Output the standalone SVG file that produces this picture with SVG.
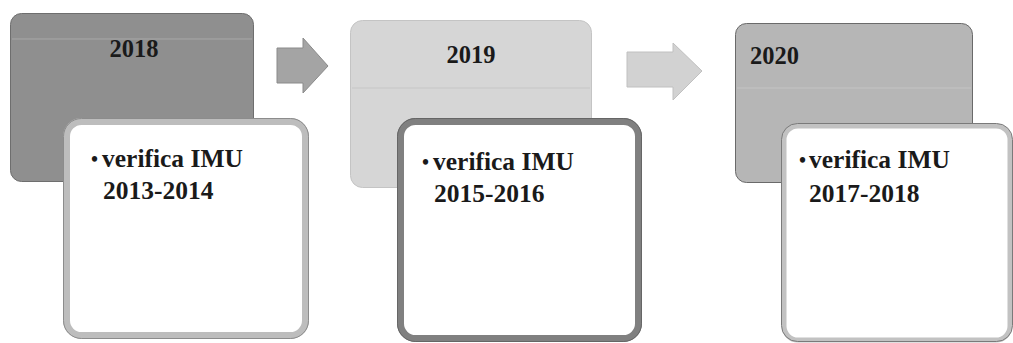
<svg xmlns="http://www.w3.org/2000/svg" width="1013" height="343" viewBox="0 0 1013 343">
<style>
.year{font-family:"Liberation Serif","Times New Roman",serif;font-weight:bold;font-size:24.5px;fill:#1a1a1a}
.item{font-family:"Liberation Serif","Times New Roman",serif;font-weight:bold;font-size:25.5px;fill:#1a1a1a}
.bul{font-size:20px}
.card{fill:#ffffff}
</style>
<rect width="1013" height="343" fill="#ffffff"/>
<g id="connectors">
<polygon points="277,48 303,48 303,38 328,66 303,93 303,83 277,83" fill="#a4a4a4" stroke="#8a8a8a" stroke-width="1"/>
<polygon points="627,52 673,52 673,43 702,71 673,100 673,87 627,87" fill="#d2d2d2" stroke="#c0c0c0" stroke-width="1"/>
</g>
<g id="node-2018">
<rect x="10.5" y="13.5" width="243" height="168" rx="11" fill="#8f8f8f" stroke="#6e6e6e" stroke-width="1"/>
<line x1="12" y1="39" x2="252" y2="39" stroke="#a8a8a8" stroke-width="1"/>
<text class="year" x="134" y="57" text-anchor="middle">2018</text>
</g>
<g id="card-2018">
<rect x="66.5" y="121.5" width="239" height="214" rx="15" class="card" stroke="#bdbdbd" stroke-width="7"/>
<rect x="63.5" y="118.5" width="245" height="220" rx="18" fill="none" stroke="#8c8c8c" stroke-width="1"/>
<text class="item"><tspan class="bul" x="91" y="166">•</tspan><tspan x="102" y="167">verifica IMU</tspan><tspan x="103" y="199">2013-2014</tspan></text>
</g>
<g id="node-2019">
<rect x="350.5" y="20.5" width="241" height="167" rx="12" fill="#d6d6d6" stroke="#c4c4c4" stroke-width="1"/>
<line x1="352" y1="88" x2="590" y2="88" stroke="#c6c6c6" stroke-width="1"/>
<text class="year" x="471" y="63" text-anchor="middle">2019</text>
</g>
<g id="card-2019">
<rect x="400.5" y="121.5" width="238" height="217" rx="15" class="card" stroke="#808080" stroke-width="7"/>
<rect x="397.5" y="118.5" width="244" height="223" rx="18" fill="none" stroke="#666666" stroke-width="1"/>
<text class="item"><tspan class="bul" x="422" y="169">•</tspan><tspan x="433" y="170">verifica IMU</tspan><tspan x="434" y="202">2015-2016</tspan></text>
</g>
<g id="node-2020">
<rect x="735.5" y="23.5" width="237" height="159" rx="11" fill="#b6b6b6" stroke="#6a6a6a" stroke-width="1"/>
<line x1="737" y1="88" x2="971" y2="88" stroke="#c4c4c4" stroke-width="1"/>
<text class="year" x="750" y="64">2020</text>
</g>
<g id="card-2020">
<rect x="784" y="126" width="226" height="214" rx="14" class="card" stroke="#c2c2c2" stroke-width="5"/>
<rect x="781.5" y="123.5" width="231" height="218" rx="16" fill="none" stroke="#7a7a7a" stroke-width="1"/>
<text class="item"><tspan class="bul" x="799" y="167">•</tspan><tspan x="809" y="168">verifica IMU</tspan><tspan x="809" y="202">2017-2018</tspan></text>
</g>
</svg>
